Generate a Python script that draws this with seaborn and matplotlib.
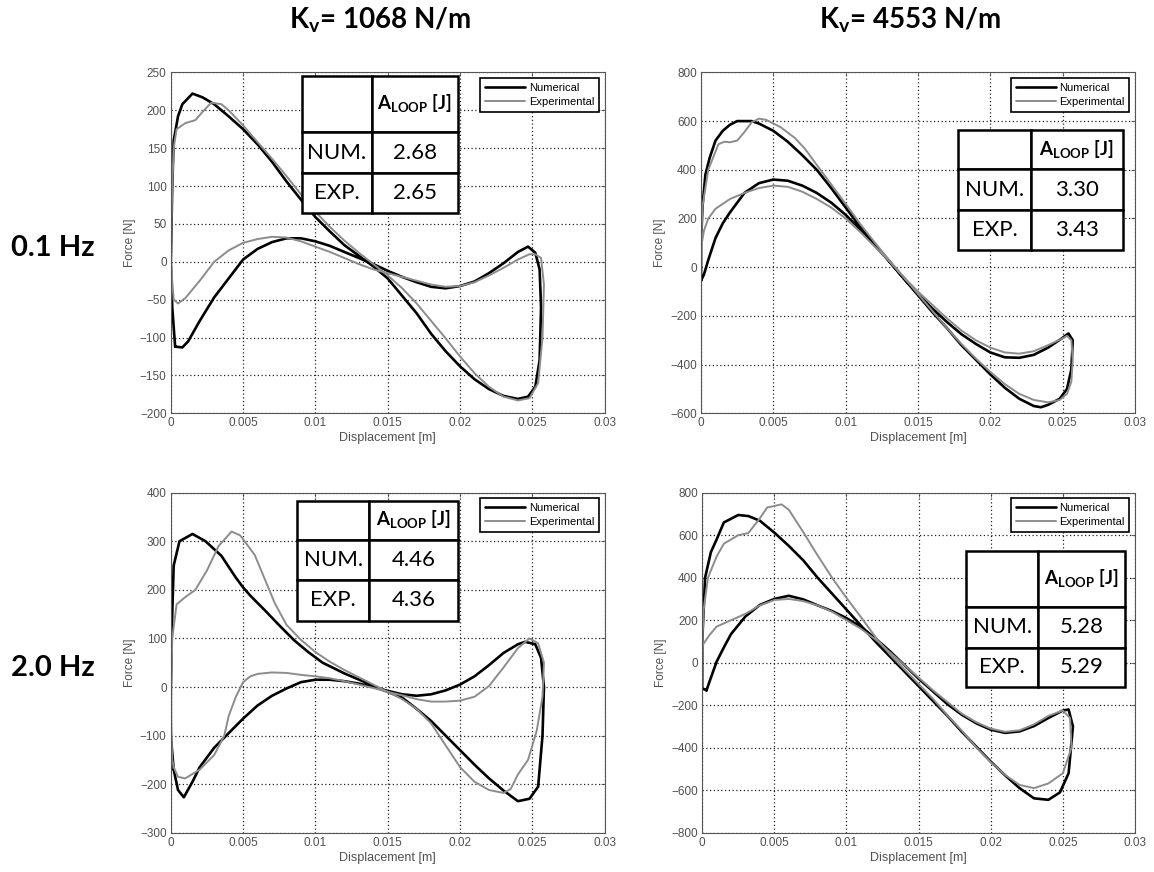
import numpy as np
import pandas as pd
import matplotlib
matplotlib.use("Agg")
import matplotlib.pyplot as plt
import matplotlib.ticker as mticker
import seaborn as sns

# ---- DATA (loops traced in drawing order) ----
# Kv = 1068 N/m, 0.1 Hz
tl_num_x = [0.0003, 0.0001, 0.0, 0.0001, 0.0002, 0.0005, 0.0008, 0.0015, 0.0022, 0.003, 0.004, 0.005, 0.006, 0.007,
            0.008, 0.009, 0.010, 0.011, 0.012, 0.013, 0.014, 0.015, 0.016, 0.017, 0.018, 0.019, 0.020, 0.021, 0.022,
            0.023, 0.024, 0.0247, 0.0252, 0.0255, 0.0256, 0.0255, 0.0252, 0.0247,
            0.024, 0.023, 0.022, 0.021, 0.020, 0.019, 0.018, 0.017, 0.016, 0.015, 0.014, 0.013, 0.012, 0.011, 0.010,
            0.009, 0.008, 0.007, 0.006, 0.005, 0.004, 0.003, 0.002, 0.0012, 0.0008, 0.0003]
tl_num_f = [-112, -60, 0, 100, 160, 192, 208, 222, 217, 208, 192, 175, 155, 132,
            106, 82, 59, 40, 22, 8, -6, -22, -45, -68, -95, -118, -138, -155, -168,
            -177, -181, -178, -165, -130, -60, -10, 12, 20,
            13, -2, -15, -26, -32, -35, -33, -27, -20, -12, -3, 5, 13, 21, 27,
            31, 31, 26, 17, 3, -22, -47, -78, -105, -113, -112]
tl_exp_x = [0.0002, 0.0, 0.0001, 0.0002, 0.0004, 0.001, 0.0017, 0.0022, 0.0028, 0.0035, 0.004, 0.005, 0.006, 0.007,
            0.008, 0.009, 0.010, 0.011, 0.012, 0.013, 0.014, 0.015, 0.016, 0.017, 0.018, 0.019, 0.020, 0.021, 0.022,
            0.023, 0.024, 0.0248, 0.0254, 0.0257, 0.0258, 0.0256, 0.0252, 0.0248,
            0.024, 0.023, 0.022, 0.021, 0.020, 0.019, 0.018, 0.017, 0.016, 0.015, 0.014, 0.013, 0.012, 0.011, 0.010,
            0.009, 0.008, 0.007, 0.006, 0.005, 0.004, 0.003, 0.002, 0.001, 0.0005, 0.0002]
tl_exp_f = [-50, 0, 100, 150, 175, 183, 187, 198, 210, 208, 200, 180, 158, 136,
            113, 89, 66, 46, 28, 12, -3, -18, -35, -55, -78, -101, -125, -147, -165,
            -178, -183, -180, -160, -100, -30, 5, 10, 10,
            3, -8, -18, -27, -32, -33, -30, -25, -20, -15, -10, -3, 5, 13, 20,
            27, 32, 33, 30, 25, 15, 0, -25, -48, -55, -50]

# Kv = 4553 N/m, 0.1 Hz
tr_num_x = [0.0, 0.0, 0.0001, 0.0003, 0.0006, 0.001, 0.0015, 0.002, 0.0025, 0.0035, 0.004, 0.005, 0.006, 0.007,
            0.008, 0.009, 0.010, 0.011, 0.012, 0.013, 0.014, 0.015, 0.016, 0.017, 0.018, 0.019, 0.020, 0.021, 0.022,
            0.023, 0.0235, 0.024, 0.0248, 0.0253, 0.0256, 0.0257, 0.0254,
            0.025, 0.024, 0.023, 0.022, 0.021, 0.020, 0.019, 0.018, 0.017, 0.016, 0.015, 0.014, 0.013, 0.012, 0.011,
            0.010, 0.009, 0.008, 0.007, 0.006, 0.005, 0.004, 0.003, 0.002, 0.0015, 0.001, 0.0005, 0.0002, 0.0]
tr_num_f = [-55, 100, 250, 380, 450, 520, 560, 585, 600, 600, 590, 560, 515, 460,
            400, 325, 245, 165, 95, 25, -45, -115, -185, -250, -320, -380, -440, -495, -540,
            -570, -575, -565, -540, -500, -420, -300, -272,
            -290, -330, -360, -372, -370, -350, -315, -275, -225, -170, -110, -45, 25, 90, 155,
            215, 265, 305, 335, 355, 360, 345, 305, 225, 180, 120, 30, -30, -55]
tr_exp_x = [0.0, 0.0001, 0.0005, 0.0012, 0.0016, 0.002, 0.0025, 0.003, 0.0035, 0.004, 0.0045, 0.0055, 0.0065, 0.0072,
            0.008, 0.009, 0.010, 0.011, 0.012, 0.013, 0.014, 0.015, 0.016, 0.017, 0.018, 0.019, 0.020, 0.021, 0.022,
            0.023, 0.024, 0.0248, 0.0253, 0.0256, 0.0257, 0.0256, 0.0253,
            0.025, 0.024, 0.023, 0.022, 0.021, 0.020, 0.019, 0.018, 0.017, 0.016, 0.015, 0.014, 0.013, 0.012, 0.011,
            0.010, 0.009, 0.008, 0.007, 0.006, 0.005, 0.004, 0.003, 0.002, 0.001, 0.0005, 0.0002, 0.0]
tr_exp_f = [80, 250, 400, 505, 515, 513, 520, 555, 595, 610, 605, 575, 530, 485,
            420, 340, 260, 178, 102, 30, -40, -110, -180, -250, -315, -375, -430, -480, -520,
            -545, -555, -545, -520, -470, -380, -300, -282,
            -292, -320, -345, -355, -350, -330, -300, -260, -210, -155, -100, -40, 25, 85, 145,
            200, 245, 280, 310, 330, 335, 325, 305, 280, 240, 200, 150, 80]

# Kv = 1068 N/m, 2.0 Hz
bl_num_x = [0.0002, 0.0, 0.0, 0.0001, 0.0002, 0.0006, 0.0015, 0.0024, 0.0035, 0.0045, 0.005, 0.0055, 0.0065, 0.0075,
            0.0085, 0.0095, 0.0105, 0.012, 0.0135, 0.0145, 0.016, 0.017, 0.018, 0.019, 0.020, 0.021, 0.022, 0.023,
            0.024, 0.0248, 0.0254, 0.0257, 0.0258, 0.0256, 0.0252, 0.0245,
            0.024, 0.023, 0.022, 0.021, 0.020, 0.019, 0.018, 0.017, 0.016, 0.015, 0.014, 0.013, 0.012, 0.011, 0.010,
            0.009, 0.008, 0.007, 0.006, 0.005, 0.004, 0.003, 0.002, 0.0015, 0.0009, 0.0005, 0.0002]
bl_num_f = [-170, -100, 0, 150, 250, 300, 315, 300, 270, 225, 205, 188, 158, 127,
            97, 72, 50, 28, 9, -4, -22, -45, -70, -100, -130, -160, -188, -213,
            -235, -230, -205, -100, 0, 60, 88, 93,
            88, 70, 45, 22, 5, -7, -15, -18, -15, -8, 0, 7, 12, 15, 15,
            10, -3, -18, -38, -65, -95, -125, -165, -195, -227, -212, -170]
bl_exp_x = [0.0001, 0.0, 0.0001, 0.0004, 0.001, 0.0017, 0.0025, 0.0033, 0.0042, 0.0048, 0.0058, 0.0065, 0.0072,
            0.008, 0.009, 0.010, 0.011, 0.012, 0.013, 0.014, 0.015, 0.016, 0.017, 0.018, 0.019, 0.020, 0.021, 0.022,
            0.023, 0.0235, 0.024, 0.0247, 0.0253, 0.0257, 0.0258, 0.0254, 0.0248,
            0.024, 0.023, 0.022, 0.021, 0.020, 0.019, 0.018, 0.017, 0.016, 0.015, 0.014, 0.013, 0.012, 0.011, 0.010,
            0.009, 0.008, 0.007, 0.006, 0.0055, 0.005, 0.0045, 0.004, 0.0037, 0.003, 0.002, 0.001, 0.0005, 0.0002,
            0.0001]
bl_exp_f = [-150, -50, 100, 170, 185, 200, 240, 290, 320, 312, 272, 222, 172,
            128, 97, 72, 52, 35, 20, 5, -10, -25, -45, -75, -120, -165, -195, -212,
            -218, -210, -180, -150, -90, -20, 50, 90, 100,
            80, 40, 2, -20, -28, -30, -30, -25, -17, -10, -2, 5, 12, 18, 22,
            25, 29, 30, 27, 22, 10, -20, -60, -100, -140, -170, -188, -185, -165,
            -150]

# Kv = 4553 N/m, 2.0 Hz
br_num_x = [0.0003, 0.0, 0.0, 0.0002, 0.0006, 0.001, 0.0015, 0.0025, 0.0032, 0.004, 0.005, 0.006, 0.007, 0.008,
            0.009, 0.010, 0.011, 0.012, 0.013, 0.014, 0.015, 0.016, 0.017, 0.018, 0.019, 0.020, 0.021, 0.022, 0.023,
            0.024, 0.0248, 0.0254, 0.0257, 0.0254,
            0.025, 0.024, 0.023, 0.022, 0.021, 0.020, 0.019, 0.018, 0.017, 0.016, 0.015, 0.014, 0.013, 0.012, 0.011,
            0.010, 0.009, 0.008, 0.007, 0.006, 0.005, 0.004, 0.003, 0.002, 0.0015, 0.001, 0.0005, 0.0003]
br_num_f = [-130, -120, 100, 400, 520, 580, 660, 695, 690, 668, 612, 550, 482, 400,
            325, 250, 175, 100, 30, -40, -110, -180, -250, -325, -395, -465, -530, -590, -638,
            -645, -610, -520, -300, -220,
            -225, -260, -298, -323, -330, -315, -285, -245, -195, -135, -75, -10, 55, 115, 168,
            210, 243, 270, 298, 315, 300, 272, 218, 135, 72, 5, -90, -130]
br_exp_x = [0.0, 0.0001, 0.0004, 0.001, 0.0015, 0.0025, 0.0032, 0.004, 0.0045, 0.0055, 0.006, 0.007, 0.008,
            0.009, 0.010, 0.011, 0.012, 0.013, 0.014, 0.015, 0.016, 0.017, 0.018, 0.019, 0.020, 0.021, 0.022, 0.023,
            0.024, 0.025, 0.0256, 0.0255, 0.025,
            0.024, 0.023, 0.022, 0.021, 0.020, 0.019, 0.018, 0.017, 0.016, 0.015, 0.014, 0.013, 0.012, 0.011,
            0.010, 0.009, 0.008, 0.007, 0.006, 0.005, 0.004, 0.003, 0.002, 0.001, 0.0005, 0.0]
br_exp_f = [80, 250, 400, 500, 560, 600, 610, 680, 730, 745, 720, 615, 505,
            400, 305, 215, 122, 40, -30, -100, -170, -248, -320, -398, -468, -528, -575, -590,
            -568, -520, -400, -260, -225,
            -250, -290, -318, -325, -310, -280, -240, -185, -130, -70, -10, 50, 110, 160,
            200, 240, 270, 290, 300, 295, 270, 230, 200, 170, 130, 80]

col_titles = ["K$_{\\mathbf{v}}$= 1068 N/m", "K$_{\\mathbf{v}}$= 4553 N/m"]
row_titles = ["0.1 Hz", "2.0 Hz"]
a_loop_num = ["2.68", "3.30", "4.46", "5.28"]
a_loop_exp = ["2.65", "3.43", "4.36", "5.29"]
y_limits = [(-200, 250), (-600, 800), (-300, 400), (-800, 800)]
y_steps = [50, 200, 100, 200]

# ---- STYLE ----
sns.set_style("white")
plt.rcParams["font.family"] = ["Liberation Sans", "DejaVu Sans"]
plt.rcParams["text.color"] = "black"
plt.rcParams["mathtext.fontset"] = "custom"
plt.rcParams["mathtext.rm"] = "Lato"
plt.rcParams["mathtext.bf"] = "Lato:bold"

fig = plt.figure(figsize=(11.54, 8.72), dpi=100)

# axes rectangles in figure fractions
ax_rects = [[0.148, 0.526, 0.376, 0.391], [0.6075, 0.526, 0.376, 0.391],
            [0.148, 0.045, 0.376, 0.390], [0.6085, 0.045, 0.375, 0.390]]
# table boxes in axes fractions, plus column widths and row heights (relative)
tab_boxes = [[0.302, 0.587, 0.359, 0.402], [0.592, 0.478, 0.380, 0.352],
             [0.291, 0.624, 0.370, 0.353], [0.610, 0.429, 0.367, 0.400]]
tab_cols = [[70, 86], [73, 92], [72, 88], [72, 87]]
tab_rows = [[56, 41, 40], [39, 41, 40], [39, 40, 41], [56, 41, 39]]

curves = [(tl_num_x, tl_num_f, tl_exp_x, tl_exp_f),
          (tr_num_x, tr_num_f, tr_exp_x, tr_exp_f),
          (bl_num_x, bl_num_f, bl_exp_x, bl_exp_f),
          (br_num_x, br_num_f, br_exp_x, br_exp_f)]

for i, (nx, nf, ex, ef) in enumerate(curves):
    ax = fig.add_axes(ax_rects[i])
    sns.lineplot(x=nx, y=nf, sort=False, estimator=None, color="black", lw=1.9,
                 ax=ax, label="Numerical")
    sns.lineplot(x=ex, y=ef, sort=False, estimator=None, color="#8c8c8c", lw=1.4,
                 ax=ax, label="Experimental")

    ax.set_xlim(0, 0.03)
    ax.set_ylim(*y_limits[i])
    ax.set_xticks(np.arange(0, 0.0301, 0.005))
    ax.set_yticks(np.arange(y_limits[i][0], y_limits[i][1] + 1, y_steps[i]))
    ax.xaxis.set_major_formatter(mticker.FormatStrFormatter("%g"))
    ax.tick_params(direction="in", length=3, width=0.6, labelsize=8.5, labelcolor="#505050",
                   top=True, right=True, colors="#505050", pad=3)
    ax.grid(True, linestyle=(0, (1, 2)), color="#222222", lw=0.9)
    for sp in ax.spines.values():
        sp.set_color("#555555")
        sp.set_linewidth(0.8)
    ax.set_xlabel("Displacement [m]", fontsize=9, color="#505050", labelpad=2)
    ax.set_ylabel("Force [N]", fontsize=8.5, color="#505050", labelpad=3)

    leg = ax.legend(loc="upper right", fontsize=8, frameon=True, fancybox=False,
                    edgecolor="black", framealpha=1, handlelength=3.6, borderpad=0.45,
                    labelspacing=0.35, handletextpad=0.3, borderaxespad=0.5)
    leg.get_frame().set_linewidth(1.2)
    for t in leg.get_texts():
        t.set_color("black")

    cells = [["", "A$_{\\mathbf{LOOP}}$ [J]"], ["NUM.", a_loop_num[i]], ["EXP.", a_loop_exp[i]]]
    tab = ax.table(cellText=cells, bbox=tab_boxes[i], cellLoc="center", zorder=6)
    tab.auto_set_font_size(False)
    for (r, c), cell in tab.get_celld().items():
        cell.set_width(tab_cols[i][c])
        cell.set_height(tab_rows[i][r])
        cell.set_linewidth(1.8)
        cell.set_edgecolor("black")
        cell.set_facecolor("white")
        txt = cell.get_text()
        txt.set_fontfamily("Lato")
        txt.set_color("black")
        txt.set_fontsize(16)
        if r == 0:
            txt.set_fontweight("bold")
            txt.set_fontsize(13.5)

for j, t in enumerate(col_titles):
    fig.text([0.329, 0.789][j], 1 - 20 / 872, t, ha="center", va="center",
             fontsize=20, fontweight="bold", family="Lato", color="black")
for j, t in enumerate(row_titles):
    fig.text(0.046, [0.7156, 0.234][j], t, ha="center", va="center",
             fontsize=21, fontweight="bold", family="Lato", color="black")

fig.savefig("out.png", dpi=100, facecolor="white")
